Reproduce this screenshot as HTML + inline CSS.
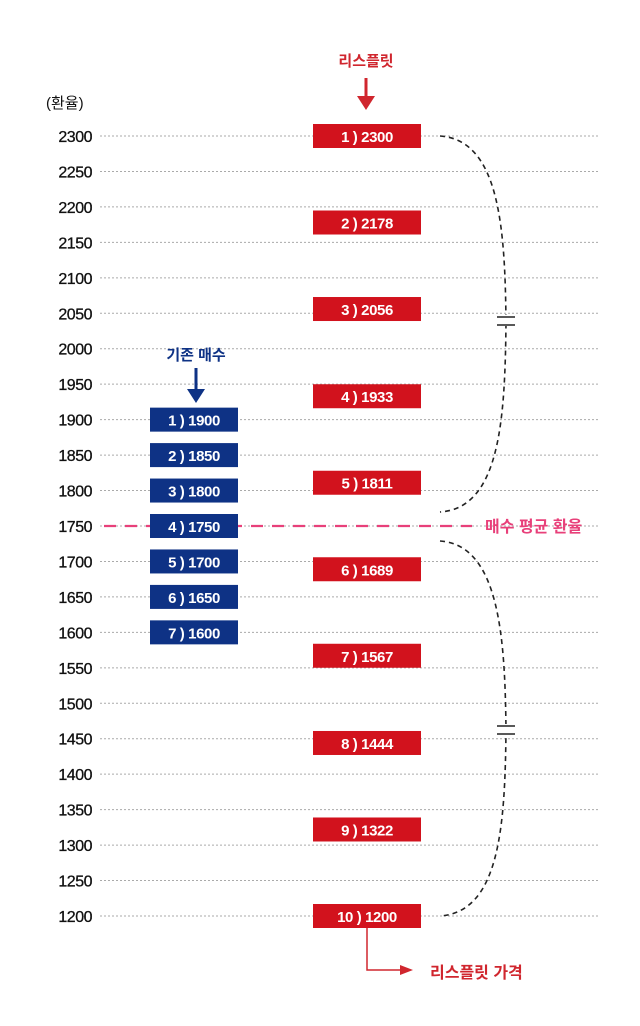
<!DOCTYPE html>
<html><head><meta charset="utf-8"><style>
body{margin:0;background:#fff;}
svg{display:block;font-family:"Liberation Sans","Noto Sans CJK KR",sans-serif;}
</style></head><body>
<svg id="chart" width="640" height="1026" viewBox="0 0 640 1026" xmlns="http://www.w3.org/2000/svg">
<text x="46" y="108" font-size="15" fill="#111">(환율)</text>
<g id="grid"></g>
<g id="ticks"></g>
<path d="M440 136 C500 140 505 230 506 322 C505 420 500 508 440 512" fill="none" stroke="#222" stroke-width="1.6" stroke-dasharray="5,4"/>
<path d="M440 541 C500 545 505 640 506 730 C505 825 500 912 440 916" fill="none" stroke="#222" stroke-width="1.6" stroke-dasharray="5,4"/>
<rect x="495" y="315" width="22" height="11" fill="#fff"/>
<line x1="497" y1="317" x2="515" y2="317" stroke="#222" stroke-width="1.5"/>
<line x1="497" y1="325" x2="515" y2="325" stroke="#222" stroke-width="1.5"/>
<rect x="495" y="724" width="22" height="11" fill="#fff"/>
<line x1="497" y1="726" x2="515" y2="726" stroke="#222" stroke-width="1.5"/>
<line x1="497" y1="734" x2="515" y2="734" stroke="#222" stroke-width="1.5"/>
<g id="avg"></g>
<g id="bars"></g>
<text x="366" y="66" font-size="15" font-weight="bold" fill="#d0262e" text-anchor="middle">리스플릿</text>
<line x1="366" y1="78" x2="366" y2="100" stroke="#d0262e" stroke-width="3"/>
<polygon points="357,96 375,96 366,110" fill="#d0262e"/>
<text x="196" y="360" font-size="15" font-weight="bold" fill="#0e3285" text-anchor="middle">기존 매수</text>
<line x1="196" y1="368" x2="196" y2="392" stroke="#0e3285" stroke-width="3"/>
<polygon points="187,389 205,389 196,403" fill="#0e3285"/>
<polyline points="367,928 367,970 402,970" fill="none" stroke="#d0262e" stroke-width="1.5"/>
<polygon points="400,965 413,970 400,975" fill="#d0262e"/>
<text x="430" y="978" font-size="16" font-weight="bold" fill="#d0262e">리스플릿 가격</text>
</svg>
<script>
const tickLabels=[2300,2250,2200,2150,2100,2050,2000,1950,1900,1850,1800,1750,1700,1650,1600,1550,1500,1450,1400,1350,1300,1250,1200];
const splitValues=[2300,2178,2056,1933,1811,1689,1567,1444,1322,1200];
const buyValues=[1900,1850,1800,1750,1700,1650,1600];
const avgRate=[1750];
const NS="http://www.w3.org/2000/svg";
function y(v){return 136+(2300-v)*(780/1100);}
function mk(t,a,p){const e=document.createElementNS(NS,t);for(const k in a)e.setAttribute(k,a[k]);p.appendChild(e);return e;}
const grid=document.getElementById('grid'),ticks=document.getElementById('ticks'),bars=document.getElementById('bars'),avg=document.getElementById('avg');
tickLabels.forEach(v=>{
 const l=mk('line',{x1:100,x2:598,y1:y(v),y2:y(v),stroke:'#aaa','stroke-width':1,'stroke-dasharray':'2,2'},grid);
 
 
 const t=mk('text',{x:92,y:y(v)+6,'font-size':16,fill:'#111','text-anchor':'end','letter-spacing':'-0.5','stroke':'#111','stroke-width':0.3},ticks);
 t.textContent=v;
 
 
});
avgRate.forEach(v=>{
 const l=mk('line',{x1:104,x2:472,y1:y(v),y2:y(v),stroke:'#e8407a','stroke-width':2.2,'stroke-dasharray':'12,9'},avg);
 
 
 const t=mk('text',{x:485,y:y(v)+6,'font-size':16,'font-weight':'bold',fill:'#e8407a'},avg);
 t.textContent='매수 평균 환율';
 
 
});
splitValues.forEach((v,i)=>{
 const r=mk('rect',{x:313,y:y(v)-12,width:108,height:24,fill:'#d2121d'},bars);
 
 
 const t=mk('text',{x:367,y:y(v)+6,'font-size':15,'font-weight':'bold',fill:'#fff','text-anchor':'middle','letter-spacing':'-0.4'},bars);
 t.textContent=(i+1)+' ) '+v;
 
 
});
buyValues.forEach((v,i)=>{
 const r=mk('rect',{x:150,y:y(v)-12,width:88,height:24,fill:'#0e3285'},bars);
 
 
 const t=mk('text',{x:194,y:y(v)+6,'font-size':15,'font-weight':'bold',fill:'#fff','text-anchor':'middle','letter-spacing':'-0.4'},bars);
 t.textContent=(i+1)+' ) '+v;
 
 
});
</script>
</body></html>
